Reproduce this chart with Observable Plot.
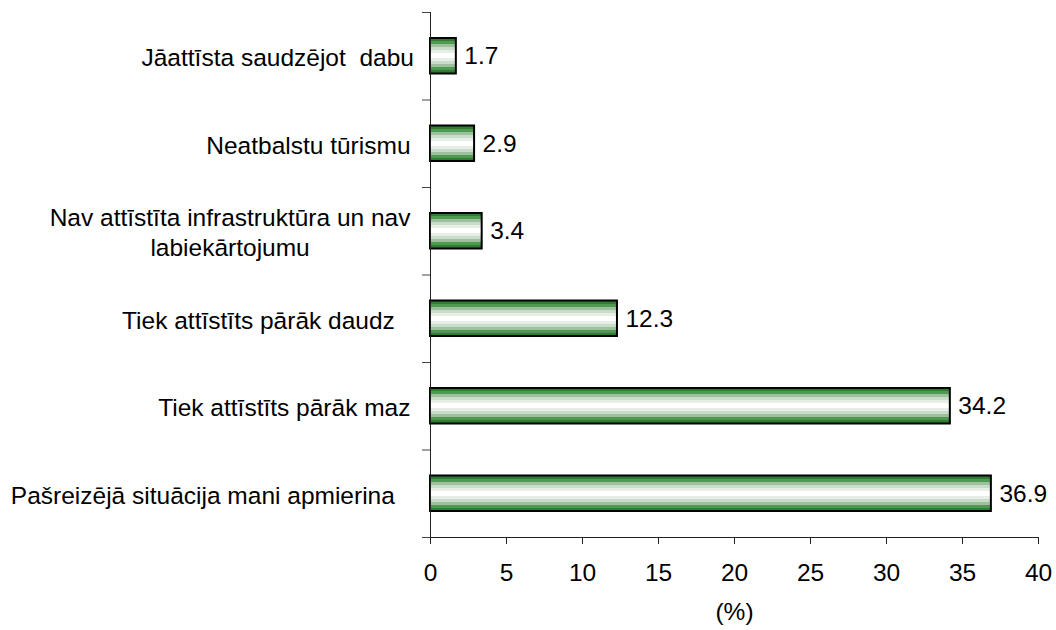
<!DOCTYPE html>
<html>
<head>
<meta charset="utf-8">
<script src="https://cdn.jsdelivr.net/npm/d3@7"></script>
<script src="https://cdn.jsdelivr.net/npm/@observablehq/plot@0.6"></script>
<style>
  html, body { margin: 0; padding: 0; background: #ffffff; }
</style>
</head>
<body>
<div id="chart"></div>
<script>
const categories = [
  "Jāattīsta saudzējot  dabu",
  "Neatbalstu tūrismu",
  "Nav attīstīta infrastruktūra un nav\nlabiekārtojumu",
  "Tiek attīstīts pārāk daudz\u00a0\u00a0\u200a",
  "Tiek attīstīts pārāk maz",
  "Pašreizējā situācija mani apmierina\u00a0\u00a0\u200a"
];
const values = [1.7, 2.9, 3.4, 12.3, 34.2, 36.9];
const xTicks = [0, 5, 10, 15, 20, 25, 30, 35, 40];
const axisTitle = "(%)";

const FONT = "'Liberation Sans', Arial, Helvetica, sans-serif";
const FS = 24.5;
const n = categories.length;
const data = categories.map((c, i) => ({category: c, value: values[i], pos: n - 1 - i}));

const ctx = document.createElement("canvas").getContext("2d");
ctx.font = `${FS}px ${FONT}`;
function maxLineWidth(s) {
  return d3.max(s.split("\n"), l => ctx.measureText(l.replace(/ +/g, " ")).width);
}

const gradStops = [
  [0.00, "#2e7d32"], [0.09, "#2e7d32"],
  [0.09, "#4f9a52"], [0.17, "#4f9a52"],
  [0.17, "#9ec09e"], [0.26, "#9ec09e"],
  [0.26, "#c9dcc9"], [0.35, "#c9dcc9"],
  [0.35, "#e6eee6"], [0.43, "#e6eee6"],
  [0.43, "#ffffff"], [0.57, "#ffffff"],
  [0.57, "#e6eee6"], [0.65, "#e6eee6"],
  [0.65, "#c9dcc9"], [0.74, "#c9dcc9"],
  [0.74, "#9ec09e"], [0.83, "#9ec09e"],
  [0.83, "#4f9a52"], [0.91, "#4f9a52"],
  [0.91, "#2e7d32"], [1.00, "#2e7d32"]
];

function defsMark() {
  const defs = d3.create("svg:defs");
  const g = defs.append("linearGradient")
    .attr("id", "barGrad").attr("x1", 0).attr("y1", 0).attr("x2", 0).attr("y2", 1);
  gradStops.forEach(([o, c]) => g.append("stop").attr("offset", o).attr("stop-color", c));
  return defs.node();
}

const labelGap = 20;
const labelMarks = data.map(d => Plot.text([d], {
  x: 0,
  y: r => r.pos + 0.5,
  text: "category",
  textAnchor: "middle",
  lineAnchor: "middle",
  lineHeight: 1.25,
  dx: -(labelGap + maxLineWidth(d.category) / 2),
  fontSize: FS,
  fill: "black"
}));

const chart = Plot.plot({
  width: 1056,
  height: 630,
  marginLeft: 430,
  marginRight: 18,
  marginTop: 12,
  marginBottom: 93,
  x: {domain: [0, 40]},
  y: {domain: [0, n]},
  style: {fontFamily: FONT, fontSize: `${FS}px`, background: "white", color: "black"},
  marks: [
    defsMark,
    Plot.rect(data, {
      x1: 0, x2: "value",
      y1: "pos", y2: d => d.pos + 1,
      insetTop: 26, insetBottom: 26,
      fill: "url(#barGrad)", stroke: "black", strokeWidth: 2
    }),
    Plot.ruleX([0], {stroke: "#222", strokeWidth: 1}),
    Plot.ruleY([0], {stroke: "#222", strokeWidth: 1}),
    Plot.axisY({ticks: d3.range(0, n + 1), tickSize: 8, tickFormat: () => "", label: null, stroke: "#444"}),
    Plot.axisX({ticks: xTicks, tickSize: 7, tickPadding: 19, fontSize: FS, label: null, stroke: "#222"}),
    Plot.text(data, {
      x: "value", y: d => d.pos + 0.5,
      text: d => d.value.toFixed(1),
      dx: 8, textAnchor: "start", lineAnchor: "middle", fontSize: FS, fill: "black"
    }),
    ...labelMarks,
    Plot.text([axisTitle], {frameAnchor: "bottom", dy: 75, lineAnchor: "middle", fontSize: FS, fill: "black"})
  ]
});
document.getElementById("chart").appendChild(chart);
</script>
</body>
</html>
